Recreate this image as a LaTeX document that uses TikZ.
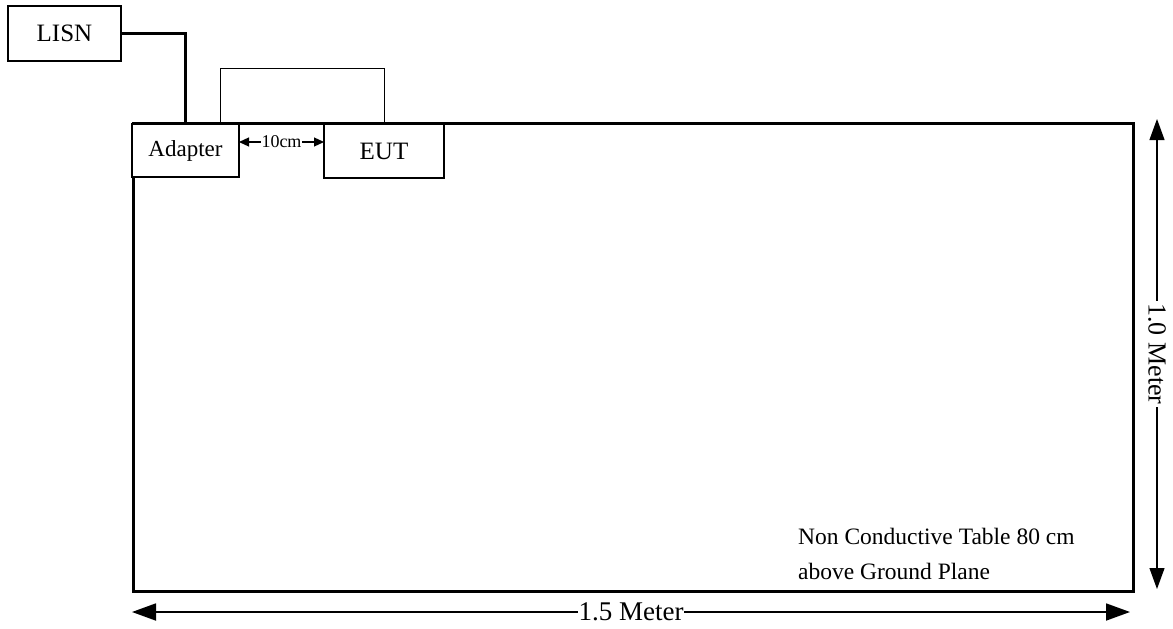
\documentclass[tikz,border=0pt]{standalone}
\usepackage{fontspec}
\setmainfont{Liberation Serif}
\usetikzlibrary{arrows.meta,calc}
\begin{document}
\begin{tikzpicture}[x=1pt,y=-1pt,
  box/.style={draw,line width=1.3pt,fill=white,inner sep=0pt},
  thickwire/.style={line width=3pt},
  thinwire/.style={line width=0.9pt},
  dimlabel/.style={fill=white,inner sep=1.5pt},
  bigdim/.style={line width=1.8pt,{Triangle[length=24pt,width=17pt]}-{Triangle[length=24pt,width=17pt]}},
  vdim/.style={line width=1.1pt,{Triangle[length=21pt,width=15pt]}-{Triangle[length=21pt,width=15pt]}},
  smalldim/.style={line width=1.2pt,{Triangle[length=10pt,width=9pt]}-{Triangle[length=10pt,width=9pt]}}]
\useasboundingbox (0,0) rectangle (1173,629);
% table
\node[draw,line width=3pt,minimum width=1000pt,minimum height=468pt,inner sep=0pt,anchor=north west] (table) at (132,122) {};
% boxes
\node[box,minimum width=113pt,minimum height=55pt,font=\fontsize{25}{30}\selectfont] (lisn) at (64.5,33.5) {LISN};
\node[box,minimum width=107pt,minimum height=53pt,font=\fontsize{23}{28}\selectfont] (ad) at (185.5,150.5) {Adapter};
\node[box,minimum width=120pt,minimum height=54pt,font=\fontsize{25}{30}\selectfont] (eut) at (384,151) {EUT};
% wires
\coordinate (lw) at (185,122);
\draw[thickwire] (lisn.east) -| (lw);
\coordinate (w1) at (220,122);
\coordinate (w2) at (220,68);
\coordinate (w3) at (384,122);
\draw[thinwire] (w1) -- (w2) -| (w3);
% 10cm
\coordinate (d1) at (239,142);
\coordinate (d2) at (324,142);
\draw[smalldim] (d1) -- node[dimlabel,inner sep=0.5pt,font=\fontsize{18}{20}\selectfont] (l10) {10cm} (d2);
% vertical dimension
\coordinate (v1) at (1157,119);
\coordinate (v2) at (1157,589);
\draw[vdim] (v1) -- node[dimlabel,rotate=-90,inner sep=2pt,font=\fontsize{26}{30}\selectfont] (l10m) {1.0 Meter} (v2);
% horizontal dimension
\coordinate (h1) at (132,612);
\coordinate (h2) at (1130,612);
\draw[bigdim] (h1) -- node[dimlabel,inner sep=0.5pt,font=\fontsize{27}{30}\selectfont] (l15m) {1.5 Meter} (h2);
% note
\node[anchor=west,align=left,inner sep=0pt,font=\fontsize{23.5}{35}\selectfont] (note) at (798,553.5) {Non Conductive Table 80 cm\\above Ground Plane};
\end{tikzpicture}
\end{document}
